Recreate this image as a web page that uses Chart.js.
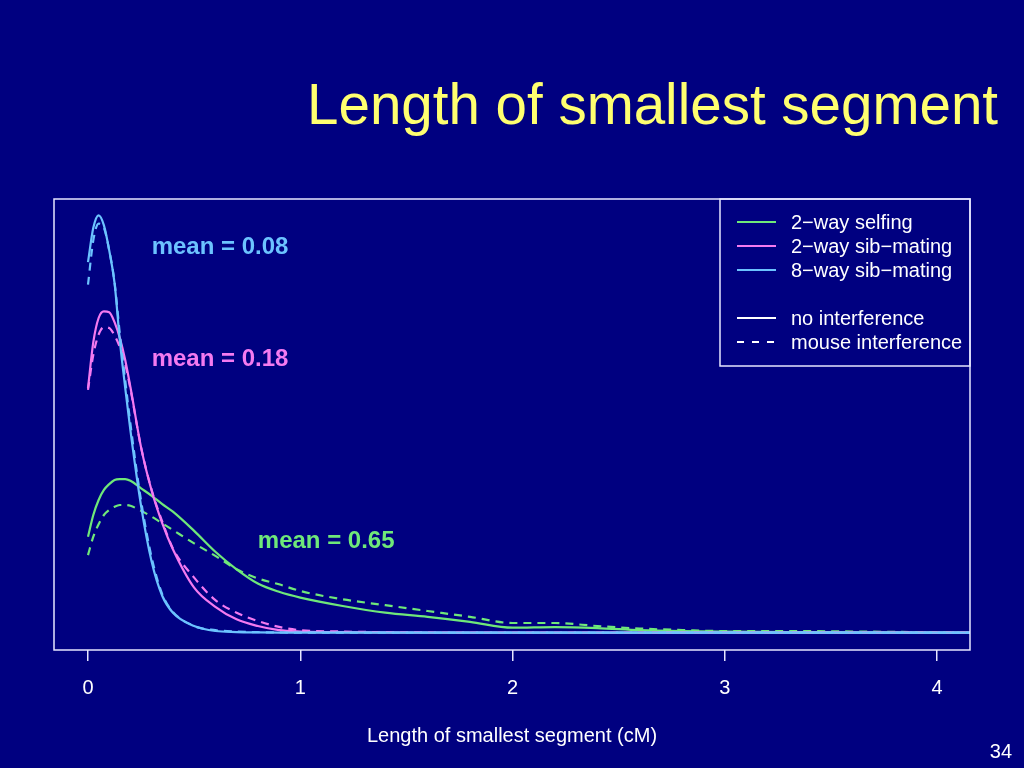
<!DOCTYPE html>
<html>
<head>
<meta charset="utf-8">
<title>Length of smallest segment</title>
<script src="https://cdn.jsdelivr.net/npm/chart.js@4.4.1/dist/chart.umd.min.js"></script>
<style>
  html, body { margin: 0; padding: 0; background: #000080; }
  canvas { display: block; }
</style>
</head>
<body>
<canvas id="segChart" width="1024" height="768"></canvas>
<script>
// x grid (cM) shared by all curves
const xs = [0, 0.025, 0.05, 0.075, 0.1, 0.125, 0.15, 0.175, 0.2, 0.25, 0.3, 0.35, 0.4,
  0.5, 0.6, 0.7, 0.8, 0.9, 1.0, 1.2, 1.4, 1.6, 1.8, 2.0, 2.2, 2.4, 2.6, 2.8, 3.0,
  3.3, 3.6, 4.0, 4.2];

// densities
const blueSolid = [4.44, 4.85, 5.00, 4.88, 4.58, 4.19, 3.50, 2.94, 2.42, 1.52, 0.85, 0.44, 0.24,
  0.08, 0.02, 0.008, 0.004, 0.002, 0.001, 0, 0, 0, 0, 0, 0, 0, 0, 0, 0, 0, 0, 0, 0];
const blueDashed = [4.17, 4.70, 4.90, 4.85, 4.58, 4.20, 3.58, 3.03, 2.50, 1.58, 0.90, 0.46, 0.25,
  0.08, 0.03, 0.014, 0.006, 0.003, 0.001, 0, 0, 0, 0, 0, 0, 0, 0, 0, 0, 0, 0, 0, 0];
const pinkSolid = [2.93, 3.48, 3.77, 3.85, 3.84, 3.72, 3.53, 3.27, 2.94, 2.22, 1.70, 1.31, 1.00,
  0.54, 0.31, 0.16, 0.08, 0.03, 0.014, 0.006, 0.003, 0.002, 0.001, 0, 0, 0, 0, 0, 0, 0, 0, 0, 0];
const pinkDashed = [2.91, 3.33, 3.57, 3.66, 3.65, 3.56, 3.42, 3.22, 2.92, 2.22, 1.71, 1.33, 1.01,
  0.66, 0.39, 0.24, 0.14, 0.07, 0.03, 0.014, 0.006, 0.003, 0.001, 0, 0, 0, 0, 0, 0, 0, 0, 0, 0];
const greenSolid = [1.15, 1.41, 1.59, 1.71, 1.78, 1.83, 1.84, 1.84, 1.82, 1.73, 1.64, 1.54, 1.45,
  1.22, 0.97, 0.76, 0.59, 0.49, 0.42, 0.32, 0.24, 0.19, 0.13, 0.06, 0.068, 0.056, 0.032, 0.02,
  0.014, 0.008, 0.005, 0.001, 0];
const greenDashed = [0.93, 1.15, 1.30, 1.41, 1.47, 1.51, 1.53, 1.53, 1.52, 1.46, 1.39, 1.31, 1.23,
  1.07, 0.92, 0.76, 0.65, 0.58, 0.50, 0.40, 0.33, 0.26, 0.19, 0.116, 0.116, 0.08, 0.05, 0.032,
  0.02, 0.02, 0.014, 0.005, 0];

const xTicks = [0, 1, 2, 3, 4];
const meanTexts = ['mean = 0.08', 'mean = 0.18', 'mean = 0.65'];

const GREEN = '#6FE879';
const PINK = '#F47AF0';
const BLUE = '#6CC3FF';
const FONT = '"Liberation Sans", Arial, Helvetica, sans-serif';

function toPoints(ys) {
  return ys.map((y, i) => ({ x: xs[i], y: y }));
}

function curve(label, ys, color, dashed) {
  return {
    label: label,
    data: toPoints(ys),
    borderColor: color,
    borderWidth: 2.2,
    borderDash: dashed ? [8, 6] : [],
    pointRadius: 0,
    fill: false,
    cubicInterpolationMode: 'monotone'
  };
}

// slide decorations: box, legend, mean labels, title, page number
const decorations = {
  id: 'decorations',
  beforeDraw(chart) {
    const ctx = chart.ctx;
    ctx.save();
    ctx.fillStyle = '#000080';
    ctx.fillRect(0, 0, chart.width, chart.height);
    ctx.restore();
  },
  afterDraw(chart) {
    const ctx = chart.ctx;
    const area = chart.chartArea;
    const sx = chart.scales.x;
    const sy = chart.scales.y;
    ctx.save();

    // plot box
    ctx.strokeStyle = '#E6E6FF';
    ctx.lineWidth = 1.5;
    ctx.strokeRect(area.left, area.top, area.right - area.left, area.bottom - area.top);

    // legend
    const lx = 720, ly = area.top, lh = 167;
    ctx.strokeRect(lx, ly, area.right - lx, lh);
    const entries = [
      { text: '2\u2212way selfing', color: GREEN, dash: [] },
      { text: '2\u2212way sib\u2212mating', color: PINK, dash: [] },
      { text: '8\u2212way sib\u2212mating', color: BLUE, dash: [] },
      null,
      { text: 'no interference', color: '#FFFFFF', dash: [] },
      { text: 'mouse interference', color: '#FFFFFF', dash: [7, 8] }
    ];
    ctx.font = '20px ' + FONT;
    ctx.textBaseline = 'middle';
    ctx.textAlign = 'left';
    entries.forEach((e, i) => {
      if (!e) return;
      const y = ly + 23 + i * 24;
      ctx.beginPath();
      ctx.setLineDash(e.dash);
      ctx.strokeStyle = e.color;
      ctx.lineWidth = 2;
      ctx.moveTo(737, y);
      ctx.lineTo(776, y);
      ctx.stroke();
      ctx.setLineDash([]);
      ctx.fillStyle = '#FFFFFF';
      ctx.fillText(e.text, 791, y + 1);
    });

    // mean labels, placed in data units
    ctx.font = 'bold 24px ' + FONT;
    const meanPos = [[0.30, 4.62, BLUE], [0.30, 3.28, PINK], [0.80, 1.10, GREEN]];
    meanPos.forEach((p, i) => {
      ctx.fillStyle = p[2];
      ctx.fillText(meanTexts[i], sx.getPixelForValue(p[0]), sy.getPixelForValue(p[1]));
    });

    // slide title
    ctx.fillStyle = '#FFFF70';
    ctx.font = '56.5px ' + FONT;
    ctx.textAlign = 'right';
    ctx.textBaseline = 'alphabetic';
    ctx.fillText('Length of smallest segment', 998, 123.5);

    // page number
    ctx.fillStyle = '#FFFFFF';
    ctx.font = '20px ' + FONT;
    ctx.fillText('34', 1012, 758);
    ctx.restore();
  }
};

new Chart(document.getElementById('segChart'), {
  type: 'line',
  data: {
    datasets: [
      curve('8\u2212way sib\u2212mating', blueSolid, BLUE, false),
      curve('8\u2212way sib\u2212mating (mouse)', blueDashed, BLUE, true),
      curve('2\u2212way sib\u2212mating', pinkSolid, PINK, false),
      curve('2\u2212way sib\u2212mating (mouse)', pinkDashed, PINK, true),
      curve('2\u2212way selfing', greenSolid, GREEN, false),
      curve('2\u2212way selfing (mouse)', greenDashed, GREEN, true)
    ]
  },
  options: {
    responsive: false,
    animation: false,
    layout: { padding: { left: 54, right: 54, top: 199, bottom: 10 } },
    plugins: {
      legend: { display: false },
      title: { display: false },
      tooltip: { enabled: false }
    },
    scales: {
      x: {
        type: 'linear',
        min: -0.1602,
        max: 4.1555,
        afterBuildTicks(scale) {
          scale.ticks = xTicks.map(v => ({ value: v }));
        },
        ticks: {
          color: '#FFFFFF',
          font: { family: FONT, size: 20 },
          padding: 15,
          maxRotation: 0,
          autoSkip: false
        },
        grid: {
          drawOnChartArea: false,
          drawTicks: true,
          tickLength: 11,
          color: '#E6E6FF',
          lineWidth: 1.5
        },
        border: { display: false },
        title: {
          display: true,
          text: 'Length of smallest segment (cM)',
          color: '#FFFFFF',
          font: { family: FONT, size: 20 },
          padding: { top: 9, bottom: 10 }
        }
      },
      y: {
        display: false,
        min: -0.2072,
        max: 5.1955
      }
    }
  },
  plugins: [decorations]
});
</script>
</body>
</html>
